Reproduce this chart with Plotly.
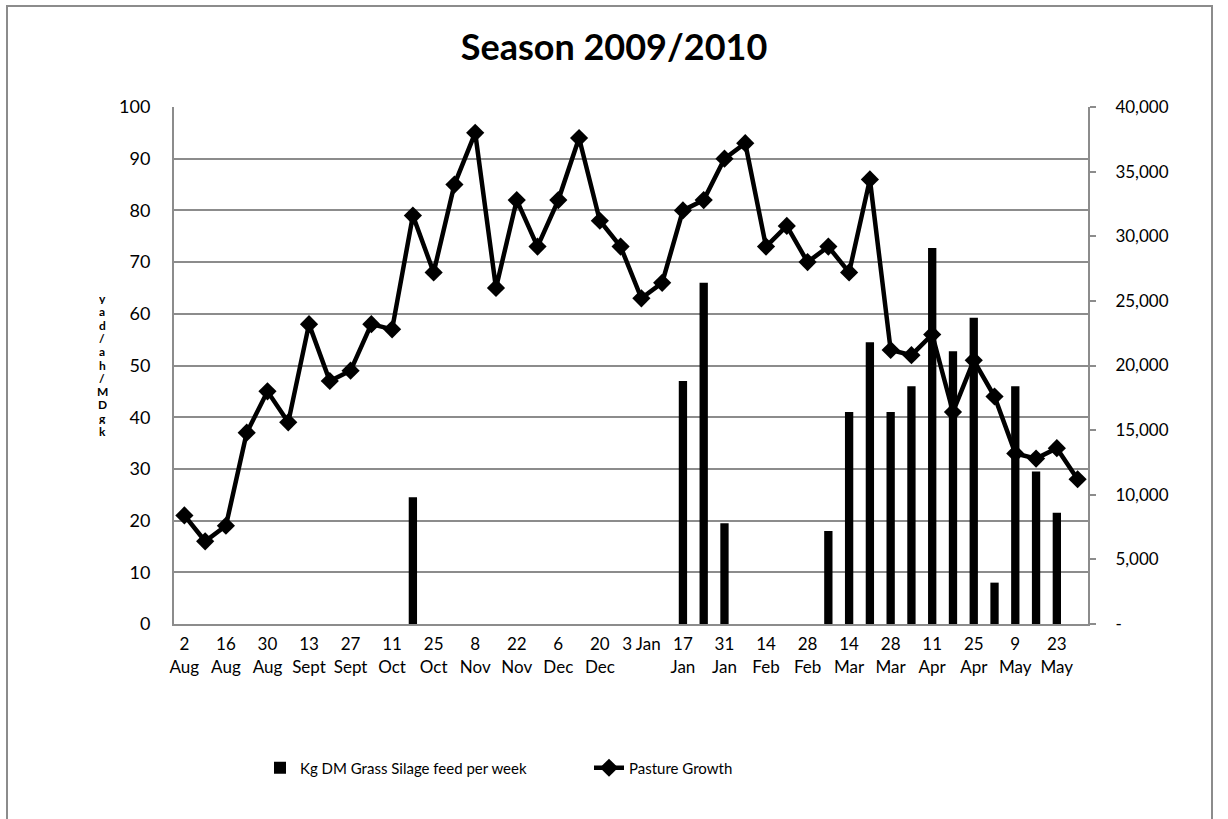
import plotly.graph_objects as go

# Weekly data, season 2009/2010
weeks = ["2 Aug", "9 Aug", "16 Aug", "23 Aug", "30 Aug", "6 Sept", "13 Sept", "20 Sept",
         "27 Sept", "4 Oct", "11 Oct", "18 Oct", "25 Oct", "1 Nov", "8 Nov", "15 Nov",
         "22 Nov", "29 Nov", "6 Dec", "13 Dec", "20 Dec", "27 Dec", "3 Jan", "10 Jan",
         "17 Jan", "24 Jan", "31 Jan", "7 Feb", "14 Feb", "21 Feb", "28 Feb", "7 Mar",
         "14 Mar", "21 Mar", "28 Mar", "4 Apr", "11 Apr", "18 Apr", "25 Apr", "2 May",
         "9 May", "16 May", "23 May", "30 May"]

# Pasture growth, kg DM/ha/day (left axis)
pasture_growth = [21, 16, 19, 37, 45, 39, 58, 47, 49, 58, 57, 79, 68, 85, 95, 65, 82, 73,
                  82, 94, 78, 73, 63, 66, 80, 82, 90, 93, 73, 77, 70, 73, 68, 86, 53, 52,
                  56, 41, 51, 44, 33, 32, 34, 28]

# Grass silage fed, kg DM per week (right axis)
silage_fed = [0, 0, 0, 0, 0, 0, 0, 0, 0, 0, 0, 9800, 0, 0, 0, 0, 0, 0,
              0, 0, 0, 0, 0, 0, 18800, 26400, 7800, 0, 0, 0, 0, 7200, 16400, 21800,
              16400, 18400, 29100, 21100, 23700, 3200, 18400, 11800, 8600, 0]

# Category tick labels (every second week)
tick_weeks = weeks[::2]
tick_text = ["2<br>Aug", "16<br>Aug", "30<br>Aug", "13<br>Sept", "27<br>Sept", "11<br>Oct",
             "25<br>Oct", "8<br>Nov", "22<br>Nov", "6<br>Dec", "20<br>Dec", "3 Jan",
             "17<br>Jan", "31<br>Jan", "14<br>Feb", "28<br>Feb", "14<br>Mar", "28<br>Mar",
             "11<br>Apr", "25<br>Apr", "9<br>May", "23<br>May"]

right_ticks = [0, 5000, 10000, 15000, 20000, 25000, 30000, 35000, 40000]
right_text = ["-", "5,000", "10,000", "15,000", "20,000", "25,000", "30,000", "35,000", "40,000"]

axis_label = "kgDM/ha/day"

GRID = "#8c8c8c"
FONT = "Lato"

fig = go.Figure()

fig.add_trace(go.Bar(
    x=weeks, y=silage_fed, name="Kg DM Grass Silage feed per week",
    marker=dict(color="black", line=dict(width=0)), yaxis="y",
))

fig.add_trace(go.Scatter(
    x=weeks, y=pasture_growth, name="Pasture Growth", mode="lines+markers",
    line=dict(color="black", width=4.5),
    marker=dict(symbol="diamond", size=14, color="black"),
    yaxis="y2",
))

W, H = 1228, 819
L, R, T, B = 174, 1088, 107, 624


def px(xp):
    return (xp - L) / (R - L)


def py(yp):
    return (B - yp) / (B - T)


# Stacked vertical axis title, letters read bottom to top
n = len(axis_label)
top_y, bottom_y = 298, 431
step = (bottom_y - top_y) / (n - 1)
annotations = []
for i, ch in enumerate(axis_label):
    yy = bottom_y - i * step
    annotations.append(dict(
        text="<b>" + ch + "</b>", x=px(102), y=py(yy), xref="paper", yref="paper",
        showarrow=False, font=dict(family=FONT, size=12, color="black"),
        xanchor="center", yanchor="middle", height=12,
    ))

fig.update_layout(
    width=W, height=H,
    margin=dict(l=L, r=W - R, t=T, b=H - B),
    paper_bgcolor="white", plot_bgcolor="white",
    font=dict(family=FONT, size=17, color="black"),
    title=dict(text="<b>Season 2009/2010</b>", x=614 / W, xanchor="center",
               y=1 - 47 / H, yanchor="middle",
               font=dict(family=FONT, size=36, color="black")),
    bargap=0.6,
    showlegend=True,
    legend=dict(orientation="h", x=px(260), xanchor="left", y=py(768), yanchor="middle",
                font=dict(family=FONT, size=15, color="black"),
                entrywidth=284, traceorder="normal"),
    xaxis=dict(
        type="category", categoryorder="array", categoryarray=weeks,
        range=[-0.5, len(weeks) - 0.5],
        tickmode="array", tickvals=tick_weeks, ticktext=tick_text, tickangle=0,
        showline=True, linecolor=GRID, linewidth=2, ticks="", showgrid=False,
        tickfont=dict(family=FONT, size=17), ticklabelstandoff=4,
    ),
    yaxis=dict(
        side="right", range=[0, 40000], tickmode="array", tickvals=right_ticks,
        ticktext=right_text, showgrid=False, zeroline=False,
        showline=True, linecolor=GRID, linewidth=2,
        ticks="outside", ticklen=6, tickcolor=GRID, tickwidth=2,
        tickfont=dict(family=FONT, size=17), ticklabelstandoff=16,
    ),
    yaxis2=dict(
        overlaying="y", side="left", range=[0, 100], dtick=10, tick0=0,
        showgrid=True, gridcolor=GRID, gridwidth=2, zeroline=False,
        showline=True, linecolor=GRID, linewidth=2, ticks="",
        tickfont=dict(family=FONT, size=18), ticklabelstandoff=18,
    ),
    annotations=annotations,
    shapes=[dict(type="rect", xref="paper", yref="paper",
                 x0=px(7), x1=px(1212), y0=py(832), y1=py(6),
                 line=dict(color=GRID, width=2), fillcolor="rgba(0,0,0,0)", layer="below")],
)

fig.write_html("out.html")
